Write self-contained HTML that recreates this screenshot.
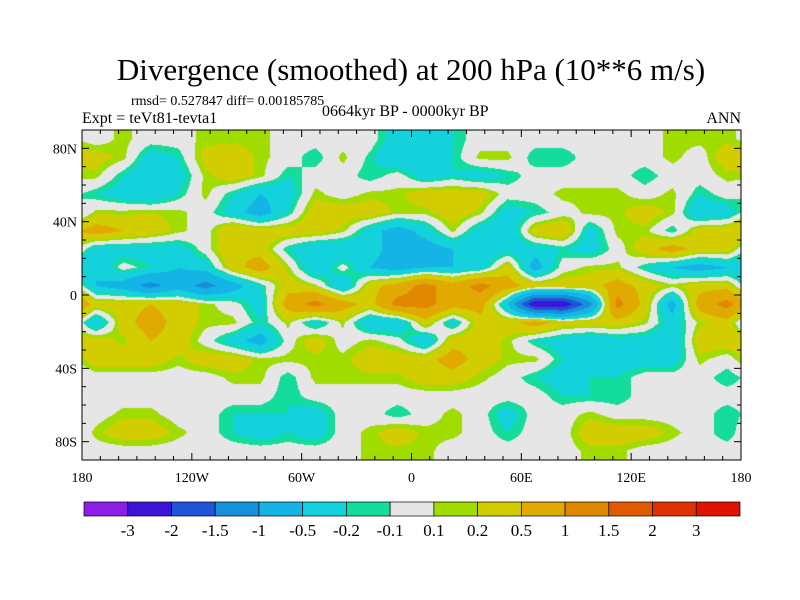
<!DOCTYPE html>
<html><head><meta charset="utf-8">
<style>
body{margin:0;background:#fff;}
#wrap{position:relative;width:800px;height:600px;overflow:hidden;font-family:"Liberation Serif",serif;color:#000;}
.t{position:absolute;white-space:nowrap;}
</style></head>
<body>
<div id="wrap">
<div class="t" style="left:0;width:822px;text-align:center;top:52px;font-size:31px;">Divergence (smoothed) at 200 hPa (10**6 m/s)</div>
<div class="t" style="left:131px;top:94px;font-size:14px;">rmsd= 0.527847 diff= 0.00185785</div>
<div class="t" style="left:82px;top:110px;font-size:16px;">Expt = teVt81-tevta1</div>
<div class="t" style="left:322px;top:103px;font-size:16px;">0664kyr BP - 0000kyr BP</div>
<div class="t" style="right:59px;top:110px;font-size:16px;">ANN</div>
<canvas id="map" width="659" height="330" style="position:absolute;left:82px;top:130px;"></canvas>
<svg id="ov" width="800" height="600" style="position:absolute;left:0;top:0;"></svg>
</div>
<script>
const lonEdges=[-180,180], latEdges=[90,-90];
const colLons=[-172.5,-157.5,-142.5,-127.5,-112.5,-97.5,-82.5,-67.5,-52.5,-37.5,-22.5,-7.5,7.5,22.5,37.5,52.5,67.5,82.5,97.5,112.5,127.5,142.5,157.5,172.5];
const rowLats=[85,75,65,55,45,35,25,15,5,-5,-15,-25,-35,-45,-55,-65,-75,-85];
const values=[
[0,0.15,0,0,0.15,0.15,0.15,0,0,0,0,-0.35, -0.35,-0.2,0,0,0,0,0,0,0,0.15,0.15,0.15],
[0.3,0.15,-0.35,-0.2,0.3,0.35,0.15,0,-0.2,0.15,-0.15,-0.5, -0.35,-0.2,0.15,0.15,-0.2,-0.2,0,0,0,0.15,0,0.35],
[0.15,-0.2,-0.5,-0.35,0.15,0.35,0.15,-0.2,0,0,-0.2,0, -0.35,-0.2,-0.35,-0.2,0,0,0,0,-0.2,0,0,0.15],
[-0.2,-0.35,-0.5,-0.2,0.15,-0.2,-0.5,-0.35,0.15,0,0.15,0.15, 0.35,0.35,0.35,0,0,0.15,0.15,0.15,0,0.15,-0.2,0],
[0.15,0.15,0.2,0.15,0,-0.35,-0.7,-0.2,0.35,0.35,0.35,0.15, 0.15,0.35,0.15,-0.35,-0.2,0,0.15,0.15,0.35,0.15,-0.5,-0.35],
[0.7,0.5,0.35,0.15,0,0.5,0.35,0.35,0.35,0.15,-0.35,-0.7, -0.35,0.15,-0.35,-0.5,0.35,0.5,-0.35,0.15,0.15,-0.2,0.35,0.35],
[-0.35,-0.35,-0.35,-0.35,0,0.5,0.35,-0.2,-0.5,-0.5,-0.35,-0.7, -0.7,-0.5,-0.5,-0.35,-0.35,-0.2,-0.35,0,0.35,0.7,0.35,0.35],
[-0.5,0,-0.2,-0.5,-0.35,0.35,0.7,0.15,-0.5,0,-0.5,-0.7, -0.5,-0.5,-0.35,0.35,-0.7,0,0.15,0.15,-0.2,-0.5,-0.7,-0.5],
[-0.5,-0.7,-1.2,-0.7,-1.2,-0.7,-0.2,0.35,0.15,-0.5,0.35,0.7, 1.2,0.7,1.2,0.7,0.35,0.35,0.35,0.7,0.35,0.15,0.35,0.35],
[0.35,0.35,0.5,0.35,0.15,0,-0.35,0.7,1.2,0.7,0.35,1.2, 1.2,0.7,0.7,-0.5,-2.5,-2.5,-1.2,1.2,0.35,-0.7,0.7,1.2],
[-0.5,0.35,0.7,0.35,0.15,0.15,-0.2,0.15,-0.35,0.15,-0.5,-0.5, 0.35,-0.35,0.35,0.35,0.7,0.35,0.35,0.35,0.15,-0.35,0.15,0.35],
[0.35,0.15,0.5,0.35,0,-0.35,-0.7,0,0.35,0,0.15,0, -0.5,0.35,0.35,0.15,-0.2,-0.35,-0.5,-0.35,-0.35,-0.5,0.35,0.35],
[0.35,0.35,0.35,0.15,0.35,0.35,0.15,0.15,0.15,0.15,0.35,0.35, 0.35,0.7,0.35,0.15,0.15,-0.2,-0.35,-0.35,-0.35,-0.35,0.15,0],
[0,0,0,0,0,0.15,0.15,-0.2,0.15,0.15,0.15,0.15, 0.35,0.35,0.15,0,-0.2,-0.35,-0.2,-0.2,0,0,0,-0.2],
[0,0,0,0,0,0,0,-0.2,0,0,0,0, 0,0,0,0,0,-0.2,-0.2,-0.2,0,0,0,0],
[0,0.15,0.15,0,0,-0.2,-0.2,-0.2,-0.35,0,0,-0.2, 0,0.15,0,-0.35,0,0,0.15,0,0,0,0,-0.2],
[0.15,0.35,0.35,0.15,0,-0.2,-0.35,-0.2,-0.35,0,0.15,0.35, 0.15,0.15,0,-0.2,0,0,0.35,0.35,0.35,0.15,0,-0.2],
[0,0,0,0,0,0,0,0,0,0,0.15,0.15, 0.15,0,0,0,0,0,0.15,0.15,0,0,0,0]
];
const levels=[-3,-2,-1.5,-1,-0.5,-0.2,-0.1,0.1,0.2,0.5,1,1.5,2,3];
const levelLabels=["-3","-2","-1.5","-1","-0.5","-0.2","-0.1","0.1","0.2","0.5","1","1.5","2","3"];
const colors=["#8c1ee6","#3c14d8","#1e55d8","#1690d8","#14b4e6","#14d2dc","#14dc9c","#e6e6e6","#a0dc00","#d2cd00","#e1aa00","#e18700","#e05a00","#e03200","#e01200"];
const latTicks=[80,40,0,-40,-80], latTickLabels=["80N","40N","0","40S","80S"];
const lonTicks=[-180,-120,-60,0,60,120,180], lonTickLabels=["180","120W","60W","0","60E","120E","180"];

const MX=82,MY=130,MW=659,MH=330;
function xOf(lon){return MX+(lon+180)/360*MW;}
function yOf(lat){return MY+(90-lat)/180*MH;}
function colorOf(v){let i=0;while(i<levels.length&&v>=levels[i])i++;return colors[i];}
function hexRgb(h){return [parseInt(h.substr(1,2),16),parseInt(h.substr(3,2),16),parseInt(h.substr(5,2),16)];}

// map field: bilinear interpolation between cell centres, then quantised by levels
const cv=document.getElementById('map'),ctx=cv.getContext('2d');
const img=ctx.createImageData(MW,MH);
const nC=colLons.length,nR=rowLats.length;
for(let py=0;py<MH;py++){
  const lat=90-(py+0.5)/MH*180;
  let fr=(rowLats[0]-lat)/(rowLats[0]-rowLats[1]);fr=Math.max(0,Math.min(nR-1,fr));
  const r0=Math.floor(fr),r1=Math.min(nR-1,r0+1),ty=fr-r0;
  for(let px=0;px<MW;px++){
    const lon=-180+(px+0.5)/MW*360;
    let fc=(lon-colLons[0])/(colLons[1]-colLons[0]);
    let c0=Math.floor(fc),tx=fc-c0;c0=(c0+nC)%nC;const c1=(c0+1)%nC;
    const v=(values[r0][c0]*(1-tx)+values[r0][c1]*tx)*(1-ty)+(values[r1][c0]*(1-tx)+values[r1][c1]*tx)*ty;
    const rgb=hexRgb(colorOf(v));const k=(py*MW+px)*4;
    img.data[k]=rgb[0];img.data[k+1]=rgb[1];img.data[k+2]=rgb[2];img.data[k+3]=255;
  }
}
ctx.putImageData(img,0,0);

const NS='http://www.w3.org/2000/svg',ov=document.getElementById('ov');
function mk(tag,attrs){const e=document.createElementNS(NS,tag);for(const k in attrs)e.setAttribute(k,attrs[k]);ov.appendChild(e);return e;}
const frame=mk('rect',{x:MX,y:MY,width:MW,height:MH,fill:'none',stroke:'#000','stroke-width':1});


for(let lon=-180;lon<=180;lon+=10){
  const len=(lon%60===0)?7:4;const x=xOf(lon);
  mk('line',{x1:x,y1:MY,x2:x,y2:MY+len,stroke:'#000'});
  mk('line',{x1:x,y1:MY+MH,x2:x,y2:MY+MH-len,stroke:'#000'});
}
for(let lat=-90;lat<=90;lat+=10){
  const len=(lat%40===0)?7:4;const y=yOf(lat);
  mk('line',{x1:MX,y1:y,x2:MX+len,y2:y,stroke:'#000'});
  mk('line',{x1:MX+MW,y1:y,x2:MX+MW-len,y2:y,stroke:'#000'});
}
latTicks.forEach((lat,i)=>{
  const t=mk('text',{x:MX-5,y:yOf(lat)+5,'text-anchor':'end','font-size':14,'font-family':'Liberation Serif, serif'});
  t.textContent=latTickLabels[i];
  
  
});
lonTicks.forEach((lon,i)=>{
  const t=mk('text',{x:xOf(lon),y:MY+MH+22,'text-anchor':'middle','font-size':14,'font-family':'Liberation Serif, serif'});
  t.textContent=lonTickLabels[i];
  
  
});
// colorbar
const CBX=84,CBY=502,CBW=656,CBH=14,bw=CBW/colors.length;
colors.forEach((c,i)=>{
  const r=mk('rect',{x:CBX+i*bw,y:CBY,width:bw,height:CBH,fill:c,stroke:'#000','stroke-width':0.7});
  
  
});
levelLabels.forEach((l,i)=>{
  const t=mk('text',{x:CBX+(i+1)*bw,y:CBY+CBH+20,'text-anchor':'middle','font-size':17,'font-family':'Liberation Serif, serif'});
  t.textContent=l;
  
  
});
</script>
</body></html>
